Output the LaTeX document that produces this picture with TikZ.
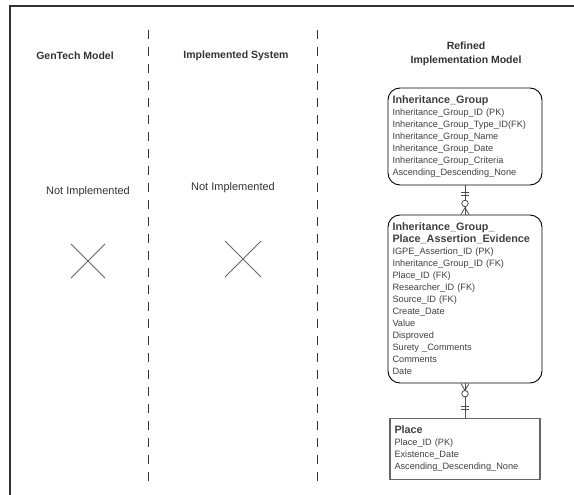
\documentclass[tikz,border=0pt]{standalone}
\usepackage{fontspec}
\setmainfont{Liberation Sans}
\usetikzlibrary{positioning, calc}

\newcommand{\enttitle}[1]{{\fontsize{10.8}{12.5}\selectfont\bfseries #1}}

\begin{document}
\begin{tikzpicture}[x=1pt, y=-1pt,
    header/.style={font=\fontsize{10.5}{14}\selectfont\bfseries, text=black!80, align=center},
    note/.style={font=\fontsize{11}{13}\selectfont, text=black!80},
    entity/.style={draw=black, line width=0.9pt, rounded corners=12pt, align=left,
      text width=145pt, inner xsep=4.5pt, inner ysep=4pt,
      font=\fontsize{9.2}{12}\selectfont, text=black!75},
    divider/.style={black!80, line width=0.9pt, dash pattern=on 9pt off 8pt},
    bar/.style={draw, minimum width=8pt, minimum height=0pt, inner sep=0pt},
    ring/.style={circle, draw, fill=white, minimum size=6.5pt, inner sep=0pt},
    rel/.style={black!70, line width=0.8pt},
    cross/.style={black!60, line width=0.8pt}]

  \useasboundingbox (0,0) rectangle (574,495);
  \draw[black!80, line width=1.2pt] (10,495) -- (10,6) -- (574,6);

  \draw[divider] (148,30) -- (148,488);
  \draw[divider] (317,30) -- (317,488);

  % column headers
  \node[header] (gentech) at (75,56) {GenTech Model};
  \node[header] (implsys) at (236,56) {Implemented System};
  \node[header] (refined) at (466,54) {Refined\\Implementation Model};

  \node[note] (none1) at (88,192) {Not Implemented};
  \node[note] (none2) at (233,188) {Not Implemented};

  \draw[cross] (71,244) -- (105,278) (71,278) -- (105,244);
  \draw[cross] (225,241) -- (261,277) (225,277) -- (261,241);

  % entities
  \node[entity, minimum height=97pt] (ig) at (465,136.5) {%
    \enttitle{Inheritance\_Group}\\
    Inheritance\_Group\_ID (PK)\\
    Inheritance\_Group\_Type\_ID(FK)\\
    Inheritance\_Group\_Name\\
    Inheritance\_Group\_Date\\
    Inheritance\_Group\_Criteria\\
    Ascending\_Descending\_None};

  \node[entity, minimum height=168pt] (igpe) at (465,299) {%
    \enttitle{Inheritance\_Group\_}\\
    \enttitle{Place\_Assertion\_Evidence}\\
    IGPE\_Assertion\_ID (PK)\\
    Inheritance\_Group\_ID (FK)\\
    Place\_ID (FK)\\
    Researcher\_ID (FK)\\
    Source\_ID (FK)\\
    Create\_Date\\
    Value\\
    Disproved\\
    Surety \_Comments\\
    Comments\\
    Date};

  \node[entity, draw=black!60, line width=1.5pt, rounded corners=0pt, text width=141pt,
    minimum height=61pt] (place) at (465,449) {%
    \enttitle{Place}\\
    Place\_ID (PK)\\
    Existence\_Date\\
    Ascending\_Descending\_None};

  % relationships
  \draw[rel] (ig.south) -- (igpe.north)
    node[bar, pos=0.23] {} node[bar, pos=0.33] {}
    node[ring, pos=0.62] (ring1) {};
  \draw[rel] ($(igpe.north)+(0,-7)$) -- ($(igpe.north)+(-4,0)$)
    ($(igpe.north)+(0,-7)$) -- ($(igpe.north)+(4,0)$);

  \draw[rel] (igpe.south) -- (place.north)
    node[ring, pos=0.3] (ring2) {}
    node[bar, pos=0.68] {} node[bar, pos=0.77] {};
  \draw[rel] ($(igpe.south)+(0,7)$) -- ($(igpe.south)+(-4,0)$)
    ($(igpe.south)+(0,7)$) -- ($(igpe.south)+(4,0)$);
\end{tikzpicture}
\end{document}
